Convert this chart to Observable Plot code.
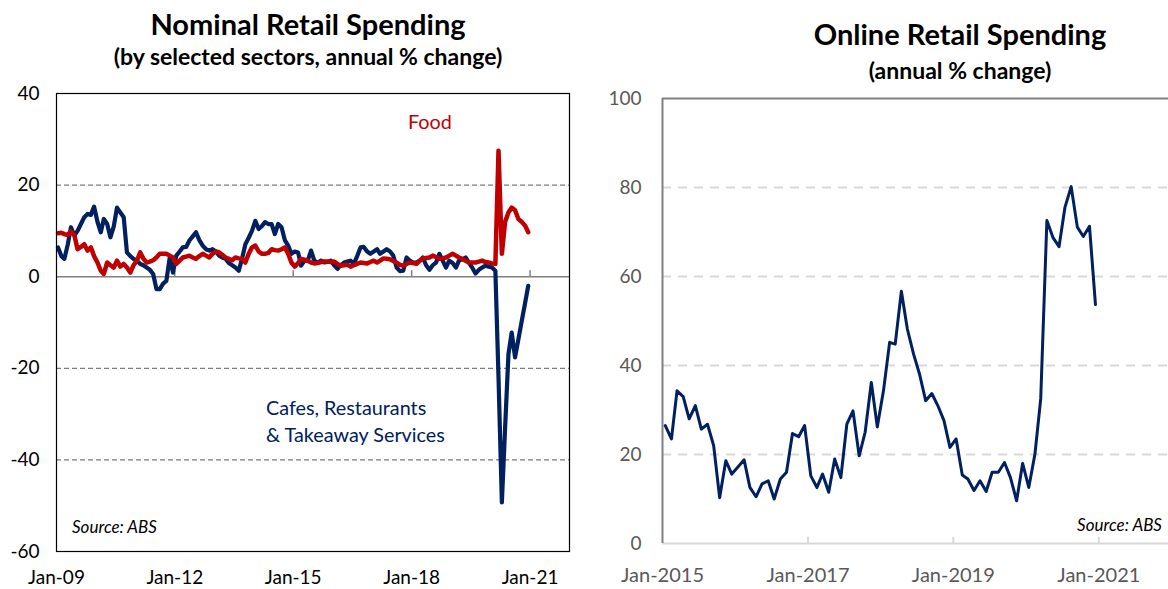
<!DOCTYPE html>
<html>
<head>
<meta charset="utf-8">
<script src="https://cdn.jsdelivr.net/npm/d3@7"></script>
<script src="https://cdn.jsdelivr.net/npm/@observablehq/plot@0.6"></script>
<style>
  html, body { margin: 0; padding: 0; background: #fff; }
  #wrap { position: relative; width: 1168px; height: 589px; overflow: hidden; font-family: Lato, "Open Sans", sans-serif; }
  .abs { position: absolute; white-space: nowrap; }
  .title { font-weight: bold; font-size: 29px; line-height: 32px; text-align: center; color: #000; }
  .sub { font-weight: bold; font-size: 23px; line-height: 26px; text-align: center; color: #000; }
  .ann { font-size: 19.8px; line-height: 27px; }
  .src { font-style: italic; font-size: 17px; line-height: 20px; color: #000; }
  #left, #right { position: absolute; top: 0; }
  #left { left: 0; width: 585px; }
  #right { left: 580px; width: 600px; }
  #left svg, #right svg { max-width: none !important; }
</style>
</head>
<body>
<div id="wrap">
  <div id="left"></div>
  <div id="right"></div>
  <div class="abs title" style="left:58px;width:500px;top:8px;">Nominal Retail Spending</div>
  <div class="abs sub" style="left:58px;width:500px;top:43px;">(by selected sectors, annual % change)</div>
  <div class="abs title" style="left:710px;width:500px;top:18px;">Online Retail Spending</div>
  <div class="abs sub" style="left:710px;width:500px;top:57px;">(annual % change)</div>
  <div class="abs ann" style="left:408px;top:108px;color:#C00000;">Food</div>
  <div class="abs ann" style="left:266px;top:394px;color:#002060;">Cafes, Restaurants<br>&amp; Takeaway Services</div>
  <div class="abs src" style="left:72px;top:517px;">Source: ABS</div>
  <div class="abs src" style="right:6px;top:515px;">Source: ABS</div>
</div>
<script>
// ---------- Data ----------
// Monthly, Jan 2009 - Dec 2020 (annual % change)
const cafes = [
  6.4, 4.5, 3.9, 7.0, 10.8, 9.0, 10.0, 11.5, 13.0, 13.7, 13.5, 15.3,
  12.0, 9.7, 12.6, 11.5, 8.6, 11.0, 15.1, 14.0, 13.0, 5.3, 4.5, 3.9,
  3.5, 2.8, 2.5, 2.0, 1.5, 0.6, -2.7, -2.7, -1.5, -0.9, 4.2, 0.9,
  4.6, 5.5, 6.4, 6.5, 7.9, 8.8, 9.7, 8.0, 6.8, 6.0, 5.7, 6.0,
  5.5, 4.6, 4.2, 3.9, 3.0, 2.5, 2.0, 1.3, 4.0, 7.1, 8.5, 10.0,
  12.2, 10.4, 11.0, 11.9, 11.5, 11.5, 9.3, 11.5, 10.8, 8.0, 6.8, 5.0,
  5.5, 5.3, 2.4, 3.5, 3.5, 5.7, 3.5, 3.1, 3.5, 3.1, 3.2, 3.5,
  2.5, 1.7, 2.5, 3.1, 3.3, 3.5, 2.8, 4.5, 6.4, 6.5, 5.5, 5.0,
  5.5, 6.0, 5.0, 5.5, 6.0, 5.5, 4.6, 2.0, 1.2, 1.3, 4.2, 3.5,
  3.1, 3.1, 3.5, 4.2, 2.5, 1.5, 2.5, 3.1, 5.0, 3.5, 2.0, 3.5,
  3.0, 2.0, 3.5, 3.8, 4.2, 3.1, 2.0, 0.7, 1.5, 2.0, 2.4, 2.2,
  2.0, 1.3, -22.0, -49.3, -33.0, -16.9, -12.2, -17.6, -13.7, -9.8, -5.9, -2.0
];
const food = [
  9.5, 9.6, 9.3, 9.1, 9.9, 9.1, 6.0, 6.5, 7.1, 5.7, 6.4, 4.5,
  3.1, 1.3, 0.6, 3.1, 2.5, 2.0, 3.5, 2.2, 2.8, 2.0, 0.9, 2.5,
  3.5, 5.3, 4.0, 3.1, 3.3, 3.6, 4.2, 5.0, 5.0, 5.0, 4.6, 4.2,
  2.8, 3.5, 4.2, 4.4, 4.6, 4.2, 3.9, 4.5, 5.0, 4.6, 4.2, 5.0,
  5.5, 5.3, 4.8, 4.2, 3.9, 3.6, 4.2, 4.0, 3.9, 3.1, 5.0, 6.4,
  6.8, 5.5, 5.0, 5.0, 5.2, 6.0, 5.8, 5.7, 6.0, 6.4, 5.0, 3.1,
  2.2, 3.0, 3.9, 3.7, 3.5, 3.1, 2.9, 3.0, 3.2, 3.3, 3.3, 3.2,
  3.3, 2.8, 2.4, 2.5, 2.6, 2.2, 2.5, 2.8, 3.1, 3.0, 2.9, 3.2,
  3.5, 3.1, 3.5, 4.0, 3.9, 3.8, 3.4, 3.1, 2.6, 2.4, 2.8, 3.1,
  3.0, 2.8, 3.4, 4.0, 4.1, 4.2, 4.6, 4.3, 3.9, 4.0, 4.2, 4.6,
  5.0, 4.6, 4.2, 3.9, 3.5, 3.1, 3.1, 3.1, 3.3, 3.5, 3.2, 3.1,
  2.9, 2.8, 27.5, 5.0, 12.0, 14.0, 15.1, 14.5, 12.6, 12.0, 11.2, 9.7
];
// Monthly, Jan 2015 - Dec 2020 (annual % change)
const online = [
  26.5, 23.5, 34.3, 33.0, 28.0, 31.0, 25.7, 26.8, 22.0, 10.3, 18.6, 15.6,
  17.2, 18.8, 12.6, 10.5, 13.4, 14.1, 10.0, 14.5, 16.0, 24.7, 24.0, 26.5,
  15.2, 12.6, 15.6, 11.5, 19.0, 14.8, 26.8, 29.8, 19.7, 25.0, 36.2, 26.2,
  34.3, 45.2, 44.8, 56.7, 48.2, 42.6, 38.1, 32.1, 33.7, 31.0, 27.6, 21.6,
  23.5, 15.4, 14.5, 11.9, 14.1, 11.7, 16.0, 16.0, 18.2, 14.8, 9.6, 18.0,
  12.6, 20.1, 32.5, 72.6, 68.8, 66.7, 75.6, 80.2, 71.1, 69.0, 71.3, 53.7
];
const leftStartYear = 2009;
const rightStartYear = 2015;
const leftTickYears = [2009, 2012, 2015, 2018, 2021];
const leftTickLabels = ["Jan-09", "Jan-12", "Jan-15", "Jan-18", "Jan-21"];
const leftYTicks = [-60, -40, -20, 0, 20, 40];
const leftGrid = [20, -20, -40];
const rightTickYears = [2015, 2017, 2019, 2021];
const rightTickLabels = ["Jan-2015", "Jan-2017", "Jan-2019", "Jan-2021"];
const rightYTicks = [0, 20, 40, 60, 80, 100];
const rightGrid = [20, 40, 60, 80];

// ---------- Build tables ----------
const monthDate = (y0, i) => new Date(Date.UTC(y0, i, 15));
const jan = y => new Date(Date.UTC(y, 0, 1));
const cafesData = cafes.map((v, i) => ({date: monthDate(leftStartYear, i), value: v}));
const foodData = food.map((v, i) => ({date: monthDate(leftStartYear, i), value: v}));
const onlineData = online.map((v, i) => ({date: monthDate(rightStartYear, i), value: v}));
const leftTicks = leftTickYears.map(jan);
const leftLabelMap = new Map(leftTicks.map((d, i) => [+d, leftTickLabels[i]]));
const rightTicks = rightTickYears.map(jan);
const rightLabelMap = new Map(rightTicks.map((d, i) => [+d, rightTickLabels[i]]));

const NAVY = "#002060", RED = "#C00000";

const leftPlot = Plot.plot({
  width: 585, height: 589,
  marginLeft: 56, marginRight: 16, marginTop: 93, marginBottom: 38,
  style: {fontFamily: "Lato, 'Open Sans', sans-serif", fontSize: "19px", color: "#000", background: "transparent", maxWidth: "none"},
  x: {type: "utc", domain: [jan(2009), jan(2022)]},
  y: {domain: [-60, 40]},
  marks: [
    Plot.ruleY(leftGrid, {stroke: "#595959", strokeWidth: 1, strokeDasharray: "5,3"}),
    Plot.ruleY([0], {stroke: "#808080", strokeWidth: 1.5}),
    Plot.ruleX(leftTicks.slice(1), {x: d => d, y1: 0, y2: 1.3, stroke: "#808080", strokeWidth: 1.5}),
    Plot.line(cafesData, {x: "date", y: "value", stroke: NAVY, strokeWidth: 4.2, strokeLinejoin: "round", strokeLinecap: "round"}),
    Plot.line(foodData, {x: "date", y: "value", stroke: RED, strokeWidth: 4.5, strokeLinejoin: "round", strokeLinecap: "round"}),
    Plot.frame({stroke: "#000", strokeWidth: 1.2}),
    Plot.axisY({ticks: leftYTicks, tickSize: 0, tickPadding: 17, label: null, fontSize: 19, tickFormat: d => String(d)}),
    Plot.axisX({ticks: leftTicks, tickSize: 0, tickPadding: 19, label: null, fontSize: 19, tickFormat: d => leftLabelMap.get(+d)})
  ]
});
document.getElementById("left").appendChild(leftPlot);

const rightPlot = Plot.plot({
  width: 600, height: 589,
  marginLeft: 82, marginRight: 9, marginTop: 98, marginBottom: 46,
  style: {fontFamily: "Lato, 'Open Sans', sans-serif", fontSize: "19px", color: "#595959", background: "transparent", maxWidth: "none"},
  x: {type: "utc", domain: [jan(2015), jan(2022)]},
  y: {domain: [0, 100]},
  marks: [
    Plot.ruleY(rightGrid, {stroke: "#d9d9d9", strokeWidth: 2, strokeDasharray: "9,7"}),
    Plot.ruleY([0], {stroke: "#d9d9d9", strokeWidth: 2}),
    Plot.ruleY([100], {stroke: "#808080", strokeWidth: 2}),
    Plot.ruleX(rightTicks.slice(1), {x: d => d, y1: 0, y2: 1.4, stroke: "#d9d9d9", strokeWidth: 2}),
    Plot.ruleX([jan(2015)], {stroke: "#808080", strokeWidth: 2}),
    Plot.line(onlineData, {x: "date", y: "value", stroke: NAVY, strokeWidth: 3, strokeLinejoin: "round"}),
    Plot.axisY({ticks: rightYTicks, tickSize: 0, tickPadding: 21, label: null, fontSize: 19, fill: "#595959", tickFormat: d => String(d)}),
    Plot.axisX({ticks: rightTicks, tickSize: 0, tickPadding: 24, label: null, fontSize: 20, fill: "#595959", tickFormat: d => rightLabelMap.get(+d)})
  ]
});
document.getElementById("right").appendChild(rightPlot);
</script>
</body>
</html>
